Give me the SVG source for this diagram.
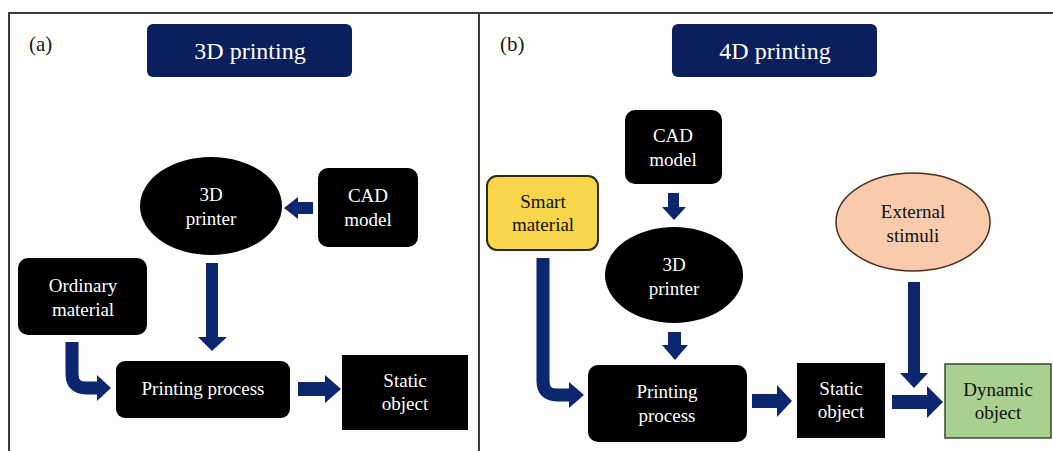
<svg xmlns="http://www.w3.org/2000/svg" width="1053" height="451" viewBox="0 0 1053 451" font-family="'Liberation Serif', 'DejaVu Serif', serif">
<style>
  text { font-family: 'Liberation Serif', 'Times New Roman', 'DejaVu Serif', serif; text-anchor: middle; }
  .title-box { fill: #0b1f5c; }
  .title { fill: #ffffff; font-size: 24px; }
  .panel-label { fill: #1a1a1a; font-size: 21px; text-anchor: start; }
  .black { fill: #000000; }
  .wt { fill: #ffffff; font-size: 19px; }
  .bt { fill: #111111; font-size: 19px; }
  .arrow { fill: #0c2670; }
  .elbow { fill: none; stroke: #0c2670; stroke-width: 13; }
  .frame { fill: none; stroke: #3a3a3a; stroke-width: 2; }
</style>
<rect width="1053" height="451" fill="#ffffff"/>
<rect x="9" y="13" width="1044" height="438" fill="#fdfdfb"/>
<g id="frame">
  <path class="frame" d="M9 451 V13 H1053"/>
  <path class="frame" d="M479 13 V451"/>
</g>
<text class="panel-label" x="29" y="51" font-family="Liberation Serif">(a)</text>
<text class="panel-label" x="500" y="51" font-family="Liberation Serif">(b)</text>

<g id="title-3d">
  <rect class="title-box" x="147" y="24" width="205" height="53" rx="6"/>
  <text class="title" x="250" y="59">3D printing</text>
</g>
<g id="title-4d">
  <rect class="title-box" x="672" y="24" width="205" height="53" rx="6"/>
  <text class="title" x="775" y="59">4D printing</text>
</g>

<!-- Panel (a) nodes -->
<g id="a-printer">
  <ellipse class="black" cx="211" cy="206" rx="71" ry="49"/>
  <text class="wt" x="211" y="201">3D</text>
  <text class="wt" x="211" y="225">printer</text>
</g>
<g id="a-cad">
  <rect class="black" x="318" y="168" width="100" height="79" rx="10"/>
  <text class="wt" x="368" y="202">CAD</text>
  <text class="wt" x="368" y="226">model</text>
</g>
<g id="a-ordinary">
  <rect class="black" x="18" y="258" width="129" height="77" rx="10"/>
  <text class="wt" x="83" y="292">Ordinary</text>
  <text class="wt" x="83" y="316">material</text>
</g>
<g id="a-process">
  <rect class="black" x="116" y="361" width="174" height="57" rx="9"/>
  <text class="wt" x="203" y="395">Printing process</text>
</g>
<g id="a-static">
  <rect class="black" x="342" y="355" width="126" height="75"/>
  <text class="wt" x="405" y="387">Static</text>
  <text class="wt" x="405" y="410">object</text>
</g>

<!-- Panel (b) nodes -->
<g id="b-cad">
  <rect class="black" x="625" y="110" width="97" height="74" rx="10"/>
  <text class="wt" x="673" y="142">CAD</text>
  <text class="wt" x="673" y="166">model</text>
</g>
<g id="b-smart">
  <rect x="487" y="176" width="111" height="74" rx="10" fill="#f8d64c" stroke="#2a2a1a" stroke-width="2"/>
  <text class="bt" x="543" y="208">Smart</text>
  <text class="bt" x="543" y="231">material</text>
</g>
<g id="b-printer">
  <ellipse class="black" cx="674" cy="275" rx="69" ry="48"/>
  <text class="wt" x="674" y="271">3D</text>
  <text class="wt" x="674" y="295">printer</text>
</g>
<g id="b-stimuli">
  <ellipse cx="913" cy="222" rx="77" ry="49" fill="#f8cbad" stroke="#4a3020" stroke-width="1.5"/>
  <text class="bt" x="913" y="218">External</text>
  <text class="bt" x="913" y="242">stimuli</text>
</g>
<g id="b-process">
  <rect class="black" x="588" y="365" width="159" height="77" rx="10"/>
  <text class="wt" x="667" y="398">Printing</text>
  <text class="wt" x="667" y="422">process</text>
</g>
<g id="b-static">
  <rect class="black" x="797" y="363" width="88" height="75"/>
  <text class="wt" x="841" y="395">Static</text>
  <text class="wt" x="841" y="418">object</text>
</g>
<g id="b-dynamic">
  <rect x="945" y="364" width="106" height="74" fill="#a9d08e" stroke="#3d4a35" stroke-width="1.5"/>
  <text class="bt" x="998" y="396">Dynamic</text>
  <text class="bt" x="998" y="419">object</text>
</g>

<g id="connectors">
  <rect class="arrow" x="297" y="202" width="16" height="12"/>
  <polygon class="arrow" points="298,197 298,219 284,208"/>
  <rect class="arrow" x="206" y="263" width="12" height="76"/>
  <polygon class="arrow" points="198,337 227,337 212,351"/>
  <path class="elbow" d="M72 342 V374 Q72 388 86 388 H99"/>
  <polygon class="arrow" points="97,375 97,401 111,388"/>
  <rect class="arrow" x="298" y="382" width="28" height="14"/>
  <polygon class="arrow" points="325,375 325,403 341,389"/>

  <rect class="arrow" x="668" y="193" width="11" height="15"/>
  <polygon class="arrow" points="662,207 686,207 674,220"/>
  <rect class="arrow" x="668" y="332" width="13" height="14"/>
  <polygon class="arrow" points="662,345 688,345 675,360"/>
  <path class="elbow" d="M543 258 V381 Q543 395 557 395 H571"/>
  <polygon class="arrow" points="569,382 569,408 584,395"/>
  <rect class="arrow" x="752" y="394" width="26" height="14"/>
  <polygon class="arrow" points="777,385 777,417 792,401"/>
  <rect class="arrow" x="892" y="395" width="36" height="14"/>
  <polygon class="arrow" points="927,386 927,418 943,402"/>
  <rect class="arrow" x="908" y="282" width="12" height="92"/>
  <polygon class="arrow" points="900,373 928,373 914,388"/>
</g>
</svg>
